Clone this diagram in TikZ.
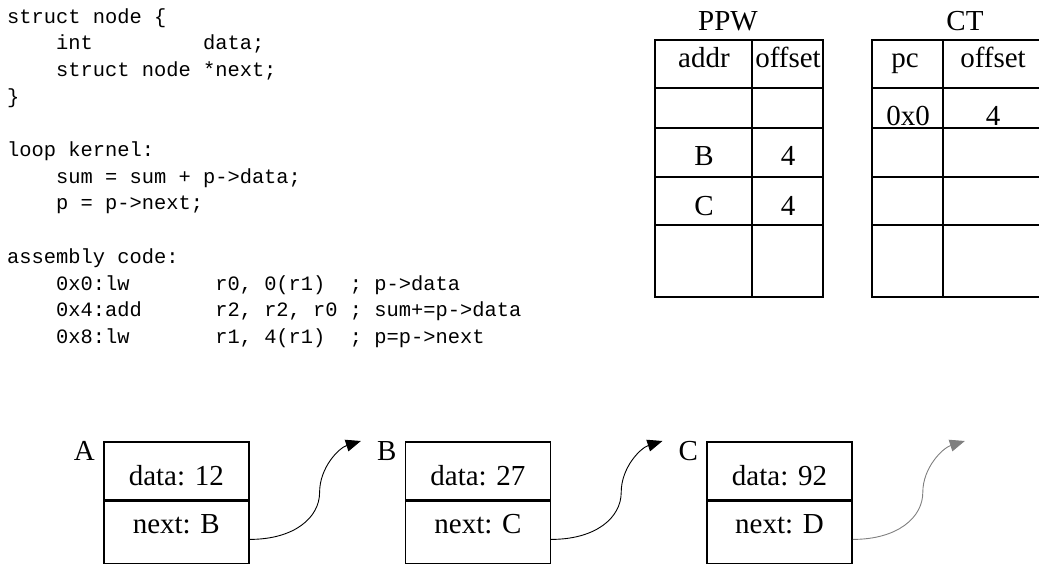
\documentclass[tikz,border=0pt]{standalone}
\usepackage{fontspec}
\setmainfont{Liberation Serif}
\setmonofont{Liberation Mono}
\usepackage{tikz}
\usetikzlibrary{arrows.meta,positioning}

% n blank columns of the code font
\newcommand{\blanks}[1]{\hspace*{\dimexpr 0.6em*#1\relax}}

\begin{document}
\begin{tikzpicture}[
    x=1pt, y=-1pt,
    code/.style={font=\ttfamily\fontsize{20.4}{26.7}\selectfont, align=left, inner sep=0pt},
    tag/.style={font=\fontsize{29}{34}\selectfont, inner sep=0pt},
    datacell/.style={draw, line width=1.6pt, minimum width=145pt, inner ysep=0pt, font=\fontsize{29}{34}\selectfont, text height=44pt, text depth=14pt},
    nextcell/.style={datacell, text height=32.5pt, text depth=29.5pt},
    tabline/.style={line width=1.6pt},
    link/.style={-{Triangle[length=15pt,width=12pt]}, line width=0.9pt}
]
    \useasboundingbox (0,0) rectangle (1039,565);

    % Source listing (base is the last line)
    \node[code, anchor=base west] (src) at (7,343.4) {%
        struct node \{\\
        \blanks{4}int\blanks{9}data;\\
        \blanks{4}struct node *next;\\
        \}\\
        \mbox{}\\
        loop kernel:\\
        \blanks{4}sum = sum + p->data;\\
        \blanks{4}p = p->next;\\
        \mbox{}\\
        assembly code:\\
        \blanks{4}0x0:lw\blanks{7}r0, 0(r1)\blanks{2}; p->data\\
        \blanks{4}0x4:add\blanks{6}r2, r2, r0 ; sum+=p->data\\
        \blanks{4}0x8:lw\blanks{7}r1, 4(r1)\blanks{2}; p=p->next};

    % PPW table
    \draw[tabline] (655,40) rectangle (823,297);
    \draw[tabline] (752,40) -- (752,297);
    \foreach \y in {88,128,177,225}
        \draw[tabline] (655,\y) -- (823,\y);
    \node[tag, anchor=base] (ppw) at (728,30) {PPW};
    \node[tag, anchor=base] (paddr) at (704,67) {addr};
    \node[tag, anchor=base] (poff) at (788,67) {offset};
    \node[tag, anchor=base] (pb) at (704,165) {B};
    \node[tag, anchor=base] (pbo) at (788,165) {4};
    \node[tag, anchor=base] (pc) at (704,215) {C};
    \node[tag, anchor=base] (pco) at (788,215) {4};

    % CT table
    \draw[tabline] (872,40) rectangle (1043,297);
    \draw[tabline] (943,40) -- (943,297);
    \foreach \y in {88,128,177,225}
        \draw[tabline] (872,\y) -- (1043,\y);
    \node[tag, anchor=base] (ct) at (965,30) {CT};
    \node[tag, anchor=base] (cpc) at (905,67) {pc};
    \node[tag, anchor=base] (coff) at (993,67) {offset};
    \node[tag, anchor=base] (cpc0) at (908,125) {0x0};
    \node[tag, anchor=base] (coff0) at (993,125) {4};

    % List nodes
    \node[datacell, anchor=north west] (a1) at (103,441) {data: 12};
    \node[nextcell, below=0pt of a1] (a2) {next: B};
    \node[datacell, right=155pt of a1] (b1) {data: 27};
    \node[nextcell, below=0pt of b1] (b2) {next: C};
    \node[datacell, right=155pt of b1] (c1) {data: 92};
    \node[nextcell, below=0pt of c1] (c2) {next: D};

    \node[tag, anchor=north east] (la) at ([xshift=-8pt]a1.north west) {A};
    \node[tag, anchor=north east] (lb) at ([xshift=-8pt]b1.north west) {B};
    \node[tag, anchor=north east] (lc) at ([xshift=-8pt]c1.north west) {C};
    \coordinate (dtip) at ([xshift=112pt]c1.north east);

    % next pointers
    \draw[link] ([yshift=-7pt]a2.east) .. controls +(45,0) and +(0,25) .. ++(70,-47)
        .. controls +(0,-25) and +(-22,7) .. ([xshift=-16pt]lb.north west);
    \draw[link] ([yshift=-7pt]b2.east) .. controls +(45,0) and +(0,25) .. ++(70,-47)
        .. controls +(0,-25) and +(-22,7) .. ([xshift=-16pt]lc.north west);
    \draw[link, black!50] ([yshift=-7pt]c2.east) .. controls +(45,0) and +(0,25) .. ++(70,-47)
        .. controls +(0,-25) and +(-22,7) .. (dtip);
\end{tikzpicture}
\end{document}
